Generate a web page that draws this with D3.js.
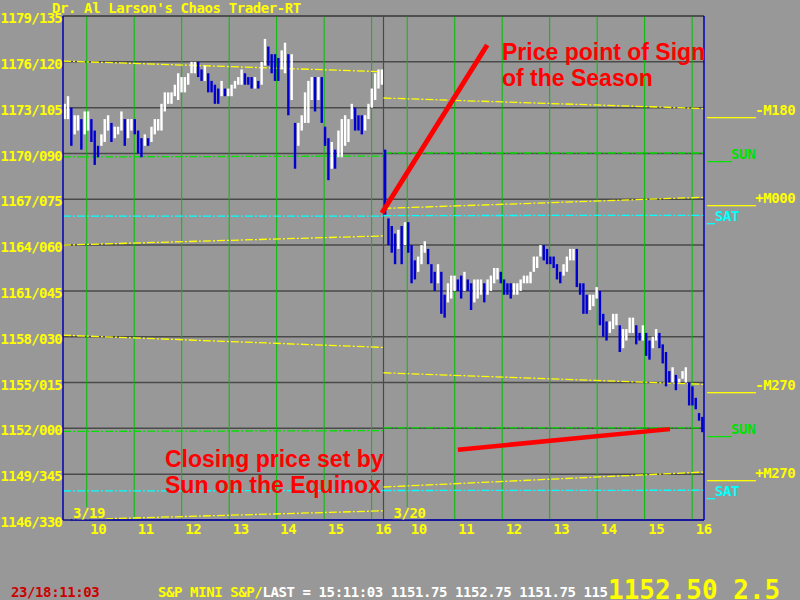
<!DOCTYPE html>
<html><head><meta charset="utf-8">
<script src="https://cdn.jsdelivr.net/npm/d3@7"></script>
<style>
html,body{margin:0;padding:0;background:#989898;}
svg{display:block;}
.mono{font-family:"DejaVu Sans Mono",monospace;font-weight:bold;font-size:14px;letter-spacing:-0.4px;}
.ylab{font-family:"DejaVu Sans Mono",monospace;font-weight:bold;font-size:14px;letter-spacing:-0.75px;}
.note{font-family:"Liberation Sans",Arial,sans-serif;font-weight:bold;font-size:23px;fill:#ff0000;}
</style></head>
<body>
<svg id="c" width="800" height="600"></svg>
<script>
// ---------------- data ----------------
const titleText = "Dr. Al Larson's Chaos Trader-RT";
const yTickPrices = [1179,1176,1173,1170,1167,1164,1161,1158,1155,1152,1149,1146];
const yTickLabels = ["1179/135","1176/120","1173/105","1170/090","1167/075","1164/060","1161/045","1158/030","1155/015","1152/000","1149/345","1146/330"];
const dayLabels = ["3/19","3/20"];
const hourLabels = [10,11,12,13,14,15,16];

const day1High = [1173.25,1173.75,1173.0,1172.5,1172.5,1172.25,1172.75,1172.75,1172.25,1171.5,
  1170.5,1171.25,1172.25,1172.5,1172.0,1171.75,1171.75,1172.75,1172.25,1172.25,
  1172.25,1172.25,1171.5,1171.0,1171.25,1171.0,1171.75,1172.25,1172.25,1173.25,
  1174.0,1174.0,1174.0,1174.5,1175.25,1175.0,1175.0,1175.25,1176.0,1176.0,
  1176.0,1175.5,1175.75,1175.25,1174.75,1174.5,1174.25,1174.75,1174.25,1174.25,
  1174.5,1174.75,1175.0,1175.5,1175.25,1175.0,1175.0,1175.0,1174.75,1176.0,
  1177.5,1177.0,1176.5,1176.5,1176.25,1176.75,1177.25,1176.5,1176.5,1172.0,
  1172.0,1172.5,1174.0,1174.75,1175.0,1175.0,1175.0,1175.0,1171.75,1171.0,
  1170.75,1170.25,1171.5,1172.25,1172.5,1172.25,1173.25,1173.0,1172.5,1172.5,
  1172.5,1173.25,1174.25,1175.25,1175.5,1175.5];
const day1Low = [1172.25,1172.25,1170.5,1171.25,1171.5,1170.25,1171.25,1171.5,1170.75,1169.25,
  1169.75,1170.5,1170.75,1171.5,1170.75,1171.0,1171.25,1171.5,1170.5,1171.0,
  1171.5,1171.25,1170.0,1169.75,1170.5,1170.5,1170.75,1171.25,1171.5,1171.5,
  1172.75,1173.25,1173.25,1173.75,1173.5,1174.0,1174.0,1174.5,1175.25,1175.25,
  1175.0,1174.75,1174.75,1174.0,1174.0,1173.25,1173.25,1173.75,1173.75,1173.75,
  1173.75,1174.25,1174.5,1174.5,1174.5,1174.5,1174.25,1174.25,1174.25,1174.5,
  1175.75,1175.75,1175.25,1174.75,1174.75,1175.5,1175.25,1172.5,1173.5,1169.0,
  1170.5,1171.5,1172.0,1172.0,1173.5,1172.75,1173.5,1172.0,1170.5,1168.25,
  1169.0,1169.0,1169.75,1169.75,1170.5,1170.75,1172.25,1171.5,1171.5,1171.25,
  1171.5,1172.25,1173.0,1173.5,1174.25,1174.5];

const day2High = [1170.25,1165.75,1165.25,1164.75,1165.0,1165.25,1165.5,1165.5,1164.0,1163.0,
  1163.25,1164.0,1164.25,1163.75,1162.75,1162.25,1162.75,1162.25,1160.75,1161.5,
  1162.0,1162.0,1161.75,1162.0,1162.25,1161.75,1161.5,1161.75,1161.75,1161.75,
  1161.5,1161.75,1162.0,1162.5,1162.5,1162.25,1161.75,1161.5,1161.5,1161.5,
  1161.5,1161.75,1162.0,1162.0,1162.25,1163.25,1163.25,1164.0,1164.0,1163.75,
  1163.25,1163.25,1162.75,1162.25,1162.75,1163.25,1163.75,1163.75,1163.75,1161.5,
  1161.5,1160.75,1160.75,1160.75,1161.25,1161.0,1159.5,1159.0,1159.0,1159.5,
  1159.5,1158.75,1158.5,1158.5,1159.25,1159.25,1158.75,1158.25,1158.75,1158.25,
  1157.75,1158.0,1158.5,1158.25,1157.5,1157.0,1155.75,1156.0,1155.5,1155.25,
  1155.75,1156.0,1155.0,1154.75,1154.0,1153.0,1152.75];
const day2Low = [1166.0,1164.0,1163.5,1162.75,1163.75,1162.75,1164.0,1163.5,1161.5,1161.75,
  1162.25,1162.75,1163.5,1162.75,1161.5,1161.0,1161.5,1159.5,1159.25,1160.25,
  1160.5,1161.0,1161.0,1160.5,1161.0,1161.0,1159.75,1160.25,1160.5,1160.75,
  1160.25,1160.75,1161.0,1161.5,1161.75,1161.5,1160.75,1160.75,1160.5,1160.75,
  1160.75,1161.0,1161.5,1161.5,1161.5,1162.25,1162.5,1163.25,1163.0,1162.75,
  1162.75,1162.5,1161.75,1161.5,1162.0,1162.25,1163.0,1163.0,1161.25,1160.75,
  1159.5,1159.5,1159.75,1160.0,1160.5,1158.75,1158.0,1157.75,1158.25,1158.5,
  1158.75,1157.0,1157.25,1157.75,1158.25,1158.25,1157.5,1157.75,1157.75,1156.75,
  1156.5,1157.25,1157.75,1157.25,1156.25,1154.75,1155.0,1155.0,1154.5,1155.0,
  1155.25,1155.0,1153.5,1153.5,1153.25,1152.5,1151.75];

const levelKinds   = ["moon","sun","moon","sat","moon","sun","moon","sat"];
const levelLabels  = ["______-M180","___SUN","______+M000","_SAT","______-M270","___SUN","______+M270","_SAT"];
const levelD1Start = [1176.05,1169.77,1164.0,1165.9,1158.1,1151.8,1146.0,1147.9];
const levelD1End   = [1175.35,1169.83,1164.6,1165.9,1157.3,1151.85,1146.6,1147.93];
const levelD2Start = [1173.63,1170.03,1166.4,1165.93,1155.64,1152.03,1148.16,1147.93];
const levelD2End   = [1172.94,1170.03,1167.13,1165.95,1154.88,1152.03,1149.14,1147.95];

const signLineMinutes  = [403, 536];
const signLinePrices   = [1166.1, 1177.1];
const closeLineMinutes = [499, 767];
const closeLinePrices  = [1150.6, 1151.95];
const noteSign  = ["Price point of Sign","of the Season"];
const noteClose = ["Closing price set by","Sun on the Equinox"];

const statusClock  = "23/18:11:03";
const statusSymbol = "S&P MINI S&P/";
const statusQuote  = "LAST = 15:11:03 1151.75 1152.75 1151.75 115";
const lastPrice    = "1152.50 2.5";

// ---------------- drawing ----------------
const BG = "#989898";
const C = {moon:"#ffff00", sun:"#00e000", sat:"#00ffff"};
const L = 63, R = 704, T = 16, B = 520;
const DAY = 405;
const svg = d3.select("#c");
svg.append("rect").attr("width",800).attr("height",600).attr("fill",BG);

const x = d3.scaleLinear().domain([0, 2*DAY]).range([L, R]);
const y = d3.scaleLinear().domain([1146, 1179]).range([B, T]);

// horizontal grid
svg.append("g").selectAll("line").data(yTickPrices).join("line")
  .attr("x1", L).attr("x2", R).attr("y1", d => y(d)).attr("y2", d => y(d))
  .attr("stroke", "#4a4a4a").attr("stroke-width", 1.5);

// hour verticals
const hourMinutes = [];
dayLabels.forEach((d, di) => hourLabels.forEach(h => hourMinutes.push(di*DAY + (h - 9.5)*60)));
svg.append("g").selectAll("line").data(hourMinutes).join("line")
  .attr("x1", d => x(d)).attr("x2", d => x(d)).attr("y1", T).attr("y2", B)
  .attr("stroke", "#00c000").attr("stroke-width", 1);

// day separator
svg.append("line").attr("x1", x(DAY)).attr("x2", x(DAY)).attr("y1", T).attr("y2", B)
  .attr("stroke", "#4a4a4a").attr("stroke-width", 1.2);

// level lines
const lv = svg.append("g");
levelKinds.forEach((k, i) => {
  [[0, levelD1Start[i], levelD1End[i]], [1, levelD2Start[i], levelD2End[i]]].forEach(([di, a, b]) => {
    lv.append("line")
      .attr("x1", x(di*DAY)).attr("x2", x((di+1)*DAY))
      .attr("y1", y(a)).attr("y2", y(b))
      .attr("stroke", C[k]).attr("stroke-width", 1.3)
      .attr("stroke-dasharray", "8,2,2,2");
  });
});

// price bars
const bars = [];
let prevMid = null;
[[day1High, day1Low], [day2High, day2Low]].forEach(([hi, lo], di) => {
  const step = DAY / hi.length;
  hi.forEach((h, i) => {
    const mid = (h + lo[i]) / 2;
    const up = prevMid === null ? true : mid >= prevMid;
    prevMid = mid;
    bars.push({m: di*DAY + (i + 0.5)*step, h, l: lo[i], up});
  });
});
svg.append("g").selectAll("rect").data(bars).join("rect")
  .attr("x", d => x(d.m) - 1.2).attr("width", 2.4)
  .attr("y", d => y(d.h)).attr("height", d => Math.max(1, y(d.l) - y(d.h)))
  .attr("fill", d => d.up ? "#ffffff" : "#0000d0");

// red annotation lines
const redLine = d3.line().x(d => x(d[0])).y(d => y(d[1]));
svg.append("path").datum(signLineMinutes.map((m, i) => [m, signLinePrices[i]]))
  .attr("d", redLine).attr("stroke", "#ff0000").attr("stroke-width", 5).attr("fill", "none");
svg.append("path").datum(closeLineMinutes.map((m, i) => [m, closeLinePrices[i]]))
  .attr("d", redLine).attr("stroke", "#ff0000").attr("stroke-width", 4.5).attr("fill", "none");

// frame
svg.append("line").attr("x1", L).attr("x2", R).attr("y1", T).attr("y2", T).attr("stroke", "#4a4a4a").attr("stroke-width", 1.5);
svg.append("line").attr("x1", L).attr("x2", L).attr("y1", T).attr("y2", B).attr("stroke", "#0000b4").attr("stroke-width", 1.5);
svg.append("line").attr("x1", R).attr("x2", R).attr("y1", T).attr("y2", B).attr("stroke", "#0000b4").attr("stroke-width", 1.5);
svg.append("line").attr("x1", L).attr("x2", R).attr("y1", B).attr("y2", B).attr("stroke", "#0000b4").attr("stroke-width", 1.5);

// date labels with background
dayLabels.forEach((d, di) => {
  const g = svg.append("g");
  const t = g.append("text").attr("class", "mono").attr("x", x(di*DAY) + 10).attr("y", 518)
    .attr("fill", "#ffff00").text(d);
  const bb = t.node().getBBox();
  g.insert("rect", "text").attr("x", bb.x - 1).attr("y", bb.y + 2).attr("width", bb.width + 2).attr("height", 518 - bb.y - 2 + 1.2)
    .attr("fill", BG);
});

// axes
const yAxis = svg.append("g").attr("transform", `translate(${L},0)`)
  .call(d3.axisLeft(y).tickValues(yTickPrices).tickFormat((d, i) => yTickLabels[i]).tickSize(0).tickPadding(1));
yAxis.select(".domain").remove();
yAxis.selectAll("text").attr("class", "ylab").attr("fill", "#ffff00").attr("dy", "0.47em");

const xAxis = svg.append("g").attr("transform", `translate(0,${B})`)
  .call(d3.axisBottom(x).tickValues(hourMinutes).tickFormat((d, i) => hourLabels[i % hourLabels.length]).tickSize(0).tickPadding(3.6));
xAxis.select(".domain").remove();
xAxis.selectAll("text").attr("class", "mono").attr("fill", "#ffff00").attr("text-anchor", "start").attr("dx", 3);

// title
svg.append("text").attr("class", "mono").attr("x", 52).attr("y", 13).attr("fill", "#ffff00").text(titleText);

// right level labels
svg.append("g").selectAll("text").data(levelLabels).join("text")
  .attr("class", "mono").attr("x", 707).attr("y", (d, i) => y(levelD2End[i]) + 6)
  .attr("fill", (d, i) => C[levelKinds[i]]).text(d => d);

// notes
svg.append("text").attr("class", "note").attr("x", 502).attr("y", 60).text(noteSign[0]);
svg.append("text").attr("class", "note").attr("x", 502).attr("y", 86).text(noteSign[1]);
svg.append("text").attr("class", "note").attr("x", 165).attr("y", 467).text(noteClose[0]);
svg.append("text").attr("class", "note").attr("x", 165).attr("y", 493).text(noteClose[1]);

// status bar
svg.append("text").attr("class", "mono").attr("x", 11).attr("y", 597).attr("fill", "#cc0000").text(statusClock);
const st = svg.append("text").attr("class", "mono").attr("x", 158).attr("y", 597);
st.append("tspan").attr("fill", "#ffff00").text(statusSymbol);
st.append("tspan").attr("fill", "#ffffff").text(statusQuote);
svg.append("text").attr("x", 608).attr("y", 599)
  .style("font-family", '"DejaVu Sans Mono",monospace').style("font-weight", "bold").style("font-size", "26px")
  .attr("fill", "#ffff00").text(lastPrice);
</script>
</body></html>
